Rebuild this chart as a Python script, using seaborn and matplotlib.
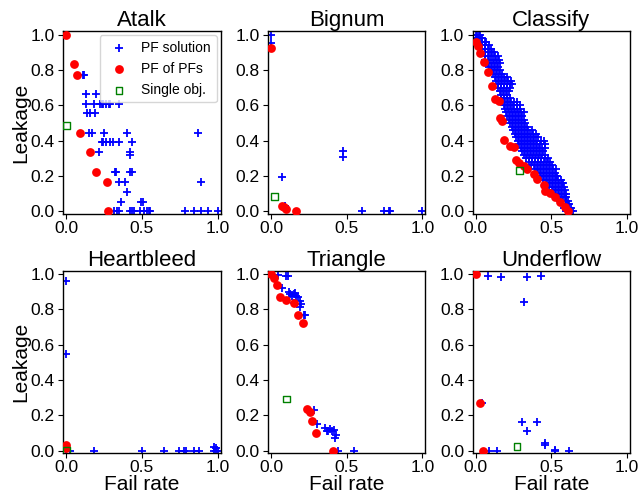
import numpy as np
import pandas as pd
import matplotlib
matplotlib.use("Agg")
import matplotlib.pyplot as plt
import seaborn as sns

# ---------------- data ----------------
titles = ["Atalk", "Bignum", "Classify", "Heartbleed", "Triangle", "Underflow"]
series_labels = ["PF solution", "PF of PFs", "Single obj."]
x_ticks = [0.0, 0.5, 1.0]
y_ticks = [0.0, 0.2, 0.4, 0.6, 0.8, 1.0]

# Atalk
atalk_pf_x = [0.0, 0.11, 0.12, 0.13, 0.195, 0.13, 0.185, 0.22, 0.235, 0.245, 0.26, 0.28, 0.29, 0.345,
              0.14, 0.155, 0.19, 0.15, 0.167, 0.25, 0.40, 0.867,
              0.233, 0.245, 0.265, 0.29, 0.31, 0.345, 0.433, 0.218, 0.422, 0.42,
              0.322, 0.326, 0.422, 0.433, 0.35, 0.39, 0.89, 0.40, 0.36, 0.493, 0.504,
              0.318, 0.333, 0.35, 0.422, 0.433, 0.444, 0.489, 0.511, 0.533, 0.544, 0.556,
              0.782, 0.844, 0.889, 0.933, 1.0]
atalk_pf_y = [1.0, 0.775, 0.775, 0.667, 0.667, 0.61, 0.61, 0.61, 0.61, 0.61, 0.61, 0.61, 0.61, 0.61,
              0.556, 0.556, 0.556, 0.443, 0.443, 0.443, 0.443, 0.443,
              0.39, 0.39, 0.39, 0.39, 0.39, 0.39, 0.39, 0.334, 0.334, 0.32,
              0.221, 0.221, 0.221, 0.221, 0.164, 0.164, 0.164, 0.11, 0.055, 0.055, 0.055,
              0.0, 0.0, 0.0, 0.0, 0.0, 0.0, 0.0, 0.0, 0.0, 0.0, 0.0,
              0.0, 0.0, 0.0, 0.0, 0.0]
atalk_pfs_x = [0.0, 0.053, 0.071, 0.089, 0.156, 0.198, 0.267, 0.273]
atalk_pfs_y = [1.0, 0.834, 0.775, 0.443, 0.334, 0.221, 0.164, 0.0]
atalk_single_x = [0.0]
atalk_single_y = [0.485]

# Bignum
bignum_pf_x = [0.0, 0.0, 0.073, 0.476, 0.476, 0.095, 0.60, 0.748, 0.785, 0.78, 1.0]
bignum_pf_y = [1.0, 0.953, 0.196, 0.34, 0.31, 0.03, 0.0, 0.0, 0.0, 0.0, 0.0]
bignum_pfs_x = [0.0, 0.07, 0.084, 0.10, 0.168]
bignum_pfs_y = [0.925, 0.032, 0.023, 0.013, 0.0]
bignum_single_x = [0.024]
bignum_single_y = [0.083]

# Classify (blue cloud read row by row)
classify_row_y = [1.00, 0.98, 0.96, 0.94, 0.92, 0.90, 0.88, 0.86, 0.84, 0.82, 0.80, 0.78, 0.76,
                  0.74, 0.72, 0.70, 0.68, 0.66, 0.64, 0.62, 0.60, 0.58, 0.56, 0.54, 0.52, 0.50,
                  0.48, 0.46, 0.44, 0.42, 0.40, 0.38, 0.36, 0.34, 0.32, 0.30, 0.28, 0.26, 0.24,
                  0.22, 0.20, 0.18, 0.16, 0.14, 0.12, 0.10, 0.08, 0.06, 0.04, 0.02, 0.00]
classify_row_x = [
    [0.0, 0.01, 0.02, 0.03],
    [0.005, 0.015, 0.035, 0.045],
    [0.02, 0.04, 0.06, 0.07],
    [0.025, 0.045, 0.065, 0.085],
    [0.04, 0.06, 0.08, 0.10],
    [0.045, 0.065, 0.085, 0.105, 0.12],
    [0.06, 0.08, 0.10, 0.13, 0.15],
    [0.065, 0.085, 0.115, 0.135, 0.155],
    [0.08, 0.10, 0.12, 0.14, 0.16],
    [0.085, 0.105, 0.125, 0.145],
    [0.10, 0.12, 0.14, 0.16],
    [0.115, 0.135, 0.155, 0.175],
    [0.13, 0.15, 0.17, 0.19, 0.21],
    [0.135, 0.155, 0.175, 0.195, 0.215, 0.235],
    [0.15, 0.17, 0.19, 0.21, 0.23, 0.24],
    [0.145, 0.165, 0.185, 0.205, 0.225],
    [0.16, 0.18, 0.20, 0.22],
    [0.165, 0.185, 0.205],
    [0.17, 0.19, 0.21, 0.23],
    [0.175, 0.195, 0.215, 0.235, 0.255, 0.275],
    [0.19, 0.21, 0.23, 0.25, 0.27, 0.29],
    [0.195, 0.215, 0.235, 0.255, 0.275, 0.295],
    [0.20, 0.22, 0.24, 0.26, 0.28, 0.30, 0.32],
    [0.205, 0.225, 0.245, 0.265, 0.285, 0.305],
    [0.22, 0.24, 0.26, 0.28, 0.30, 0.32],
    [0.225, 0.245, 0.265, 0.285, 0.305, 0.325],
    [0.24, 0.26, 0.28, 0.30, 0.32, 0.34],
    [0.245, 0.265, 0.285, 0.305, 0.325, 0.345, 0.375],
    [0.26, 0.28, 0.30, 0.32, 0.34, 0.36, 0.38, 0.40],
    [0.265, 0.285, 0.305, 0.325, 0.345, 0.365, 0.385, 0.415],
    [0.28, 0.30, 0.32, 0.34, 0.36, 0.38, 0.40, 0.43, 0.45],
    [0.285, 0.305, 0.325, 0.345, 0.365, 0.385, 0.405, 0.425, 0.455],
    [0.30, 0.32, 0.34, 0.36, 0.38, 0.40, 0.42, 0.44, 0.46],
    [0.305, 0.325, 0.345, 0.365, 0.385, 0.405, 0.425, 0.445],
    [0.32, 0.34, 0.36, 0.38, 0.40, 0.42, 0.44, 0.46],
    [0.335, 0.355, 0.375, 0.395, 0.415, 0.435, 0.455, 0.475],
    [0.35, 0.37, 0.39, 0.41, 0.43, 0.45, 0.47, 0.49],
    [0.365, 0.385, 0.405, 0.425, 0.445, 0.465, 0.485, 0.505],
    [0.39, 0.41, 0.43, 0.45, 0.47, 0.49, 0.51, 0.53],
    [0.405, 0.425, 0.445, 0.465, 0.485, 0.505, 0.525],
    [0.43, 0.45, 0.47, 0.49, 0.51, 0.53, 0.54],
    [0.445, 0.465, 0.485, 0.505, 0.525, 0.545, 0.565],
    [0.47, 0.49, 0.51, 0.53, 0.55, 0.57, 0.58],
    [0.485, 0.505, 0.525, 0.545, 0.565, 0.585],
    [0.51, 0.53, 0.55, 0.57, 0.59],
    [0.525, 0.545, 0.565, 0.585, 0.60],
    [0.55, 0.57, 0.59, 0.60],
    [0.555, 0.575, 0.595, 0.61],
    [0.58, 0.60, 0.61, 0.62],
    [0.585, 0.605, 0.62, 0.63],
    [0.60, 0.62, 0.63, 0.64],
]
classify_pfs_x = [0.004, 0.015, 0.028, 0.054, 0.083, 0.107, 0.126, 0.157, 0.161, 0.172, 0.19, 0.227,
                  0.255, 0.266, 0.288, 0.32, 0.342, 0.386, 0.407, 0.45, 0.455, 0.494, 0.527, 0.56,
                  0.593, 0.608]
classify_pfs_y = [0.962, 0.937, 0.896, 0.845, 0.79, 0.709, 0.636, 0.623, 0.528, 0.509, 0.404, 0.372,
                  0.362, 0.29, 0.272, 0.255, 0.24, 0.211, 0.183, 0.149, 0.117, 0.102, 0.079, 0.051,
                  0.023, 0.004]
classify_single_x = [0.29]
classify_single_y = [0.23]

# Heartbleed
heartbleed_pf_x = [0.0, 0.0, 0.0, 0.022, 0.182, 0.5, 0.644, 0.744, 0.778, 0.789, 0.844, 0.878,
                   0.978, 0.989, 1.0, 0.978, 0.989]
heartbleed_pf_y = [0.962, 0.545, 0.0, 0.0, 0.0, 0.0, 0.0, 0.0, 0.0, 0.0, 0.0, 0.0,
                   0.0, 0.0, 0.0, 0.019, 0.015]
heartbleed_pfs_x = [0.0, 0.0]
heartbleed_pfs_y = [0.03, 0.015]
heartbleed_single_x = [0.0]
heartbleed_single_y = [0.002]

# Triangle
triangle_pf_x = [0.048, 0.101, 0.114, 0.073, 0.121, 0.127, 0.149, 0.16, 0.167, 0.176, 0.193, 0.198,
                 0.189, 0.149, 0.138, 0.226, 0.215, 0.281, 0.303, 0.358, 0.369, 0.38, 0.391, 0.402,
                 0.418, 0.424, 0.431, 0.446, 0.549]
triangle_pf_y = [0.994, 0.989, 0.989, 0.921, 0.898, 0.887, 0.887, 0.892, 0.874, 0.868, 0.849, 0.83,
                 0.815, 0.834, 0.874, 0.768, 0.768, 0.232, 0.151, 0.128, 0.11, 0.113, 0.125, 0.11,
                 0.117, 0.072, 0.087, 0.0, 0.0]
triangle_pfs_x = [0.0, 0.02, 0.04, 0.062, 0.097, 0.154, 0.176, 0.211, 0.237, 0.255, 0.268, 0.295, 0.409]
triangle_pfs_y = [1.0, 0.977, 0.936, 0.868, 0.853, 0.834, 0.768, 0.721, 0.234, 0.217, 0.166, 0.1, 0.0]
triangle_single_x = [0.101]
triangle_single_y = [0.292]

# Underflow
underflow_pf_x = [0.084, 0.165, 0.341, 0.429, 0.319, 0.308, 0.407, 0.336, 0.455, 0.455, 0.527,
                  0.527, 0.088, 0.143, 0.62, 0.044]
underflow_pf_y = [0.989, 0.985, 0.985, 0.989, 0.84, 0.164, 0.164, 0.11, 0.043, 0.03, 0.006,
                  0.0, 0.0, 0.0, 0.0, 0.27]
underflow_pfs_x = [0.0, 0.029, 0.046]
underflow_pfs_y = [1.0, 0.27, 0.0]
underflow_single_x = [0.272]
underflow_single_y = [0.023]

# ---------------- assemble ----------------
classify_pf_x = [x for row in classify_row_x for x in row]
classify_pf_y = [y for y, row in zip(classify_row_y, classify_row_x) for _ in row]

panels = {
    "Atalk": (atalk_pf_x, atalk_pf_y, atalk_pfs_x, atalk_pfs_y, atalk_single_x, atalk_single_y),
    "Bignum": (bignum_pf_x, bignum_pf_y, bignum_pfs_x, bignum_pfs_y, bignum_single_x, bignum_single_y),
    "Classify": (classify_pf_x, classify_pf_y, classify_pfs_x, classify_pfs_y, classify_single_x, classify_single_y),
    "Heartbleed": (heartbleed_pf_x, heartbleed_pf_y, heartbleed_pfs_x, heartbleed_pfs_y, heartbleed_single_x, heartbleed_single_y),
    "Triangle": (triangle_pf_x, triangle_pf_y, triangle_pfs_x, triangle_pfs_y, triangle_single_x, triangle_single_y),
    "Underflow": (underflow_pf_x, underflow_pf_y, underflow_pfs_x, underflow_pfs_y, underflow_single_x, underflow_single_y),
}

sns.set_style("ticks")
plt.rcParams["font.family"] = ["Liberation Sans", "DejaVu Sans"]
plt.rcParams["axes.edgecolor"] = "black"
plt.rcParams["xtick.color"] = "black"
plt.rcParams["ytick.color"] = "black"
plt.rcParams["text.color"] = "black"
plt.rcParams["axes.labelcolor"] = "black"

fig, axes = plt.subplots(2, 3, figsize=(6.39, 4.97), dpi=100)
fig.subplots_adjust(left=0.099, right=0.986, top=0.937, bottom=0.088, wspace=0.30, hspace=0.31)

for i, (ax, name) in enumerate(zip(axes.flat, titles)):
    pfx, pfy, px, py, sx, sy = panels[name]
    sns.scatterplot(x=pfx, y=pfy, ax=ax, marker="+", color="blue", s=30, linewidth=1.3,
                    label=series_labels[0], zorder=2)
    sns.scatterplot(x=px, y=py, ax=ax, marker="o", color="red", s=40, linewidth=0,
                    label=series_labels[1], zorder=3)
    sns.scatterplot(x=sx, y=sy, ax=ax, marker="s", color="green", facecolor="none",
                    edgecolor="green", s=22, linewidth=1.0, label=series_labels[2], zorder=4)
    ax.set_xlim(-0.02, 1.02)
    ax.set_ylim(-0.015, 1.02)
    ax.set_xticks(x_ticks)
    ax.set_yticks(y_ticks)
    ax.tick_params(labelsize=12.5, length=3.5, width=0.8, direction="out")
    ax.tick_params(axis="x", pad=1.5)
    ax.tick_params(axis="y", pad=2.5)
    ax.set_title(name, fontsize=16, pad=3)
    for sp in ax.spines.values():
        sp.set_visible(True)
        sp.set_linewidth(1.0)
        sp.set_color("black")
    if i % 3 == 0:
        ax.set_ylabel("Leakage", fontsize=15, labelpad=0)
    if i >= 3:
        ax.set_xlabel("Fail rate", fontsize=15, labelpad=0)
    if i == 0:
        ax.legend(loc="upper right", fontsize=10, borderpad=0.4, handletextpad=0.6,
                  labelspacing=0.5, borderaxespad=0.3, framealpha=0.8)
    else:
        leg = ax.get_legend()
        if leg is not None:
            leg.remove()

fig.savefig("out.png", dpi=100)
